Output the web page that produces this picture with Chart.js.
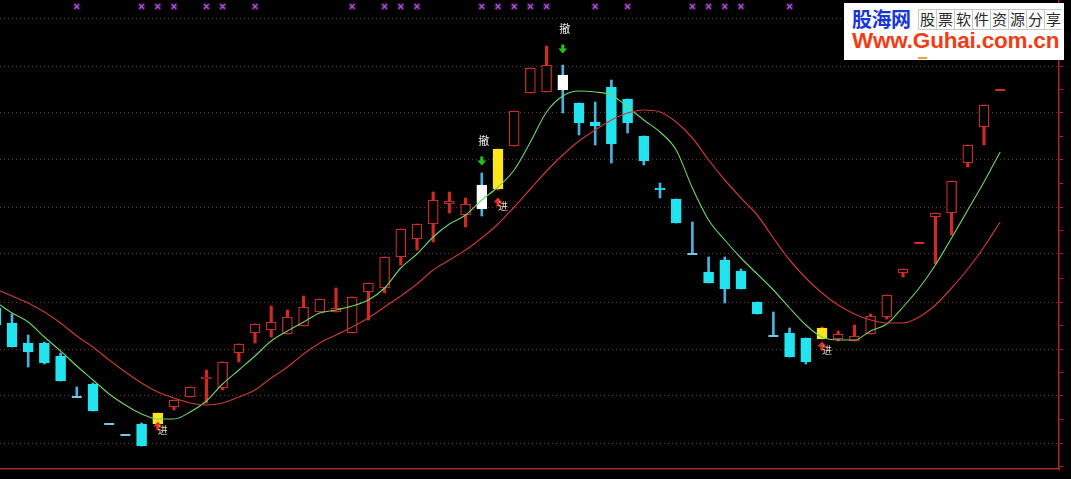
<!DOCTYPE html>
<html>
<head>
<meta charset="utf-8">
<script src="https://cdn.jsdelivr.net/npm/chart.js@4.4.1/dist/chart.umd.min.js"></script>
<style>
html,body{margin:0;padding:0;background:#000;width:1071px;height:479px;overflow:hidden}
#wrap{position:relative;width:1071px;height:479px;background:#000}
#c{position:absolute;left:0;top:0}
#logo{position:absolute;left:844px;top:3px;width:220px;height:57px;background:#fff;overflow:hidden}
#logo .brand{position:absolute;left:8px;top:3px;font:bold 20px "Noto Sans CJK SC";color:#1836d8;line-height:26px;letter-spacing:-0.5px;white-space:nowrap}
#logo .slogan{position:absolute;left:74px;top:6px;display:flex;height:20px}
#logo .slogan i{font-style:normal;display:block;width:17px;height:19px;border:1px solid #c8c8c8;border-right:none;font:15px "Noto Sans CJK SC";color:#2a2a2a;text-align:center;line-height:18px}
#logo .url{position:absolute;left:8px;top:25px;font:bold 22.5px "Liberation Sans";color:#f23c16;line-height:26px;white-space:nowrap;letter-spacing:-0.2px}
#logo .dash{position:absolute;left:74px;top:54px;width:9px;height:2px;background:#f0a030}
</style>
</head>
<body>
<div id="wrap">
<canvas id="c" width="1071" height="479"></canvas>
<div id="logo">
  <span class="brand">股海网</span>
  <span class="slogan"><i>股</i><i>票</i><i>软</i><i>件</i><i>资</i><i>源</i><i>分</i><i>享</i></span>
  <span class="url">Www.Guhai.com.cn</span>
  <span class="dash"></span>
</div>
</div>
<script>
// ---------- data ----------
const dayIdx = [-1,0,1,2,3,4,5,6,7,8,9,10,11,12,13,14,15,16,17,18,19,20,21,22,23,24,25,26,27,28,29,30,31,32,33,34,35,36,37,38,39,40,41,42,43,44,45,46,47,48,49,50,51,52,53,54,55,56,57,58,59,60,61];
const openP  = [9.61,9.46,9.26,9.26,9.13,8.72,8.85,8.45,8.34,8.45,8.45,8.62,8.72,8.90,8.81,9.16,9.36,9.39,9.35,9.43,9.57,9.57,9.36,9.77,9.81,10.12,10.30,10.45,10.65,10.54,10.84,10.80,11.23,11.76,11.77,11.94,11.66,11.47,11.82,11.70,11.33,10.81,10.70,10.15,9.97,10.09,9.98,9.67,9.33,9.36,9.31,9.30,9.30,9.28,9.35,9.52,9.96,10.26,10.52,10.56,11.06,11.42,11.79];
const highP  = [9.63,9.55,9.34,9.27,9.16,8.82,8.86,8.45,8.34,8.46,8.56,8.69,8.82,8.99,9.07,9.25,9.45,9.63,9.59,9.73,9.70,9.81,9.72,9.86,10.12,10.40,10.45,10.77,10.77,10.71,10.96,11.20,11.58,12.01,12.23,12.04,11.66,11.67,11.89,11.70,11.33,10.86,10.70,10.47,10.12,10.12,10.00,9.67,9.57,9.41,9.31,9.42,9.38,9.44,9.55,9.74,10.00,10.26,10.56,10.88,11.24,11.64,11.79];
const lowP   = [9.44,9.22,9.02,9.05,8.88,8.72,8.58,8.45,8.34,8.23,8.45,8.59,8.72,8.66,8.79,9.07,9.26,9.32,9.35,9.43,9.57,9.57,9.36,9.49,9.76,10.04,10.19,10.27,10.56,10.42,10.53,10.79,11.23,11.76,11.77,11.56,11.34,11.24,11.06,11.36,11.04,10.71,10.46,10.15,9.86,9.66,9.80,9.55,9.33,9.12,9.05,9.30,9.28,9.28,9.35,9.50,9.92,10.26,10.05,10.34,11.02,11.24,11.79];
const closeP = [9.44,9.22,9.17,9.06,8.88,8.72,8.58,8.45,8.34,8.23,8.56,8.69,8.82,8.92,9.07,9.25,9.45,9.47,9.52,9.62,9.70,9.61,9.72,9.86,10.12,10.40,10.45,10.69,10.68,10.65,10.60,11.20,11.58,12.01,12.04,11.79,11.46,11.43,11.25,11.46,11.08,10.79,10.46,10.15,9.86,9.80,9.80,9.55,9.33,9.12,9.07,9.41,9.35,9.33,9.53,9.74,10.00,10.26,10.56,10.88,11.24,11.64,11.79];
const maFast = [9.67,9.56,9.47,9.32,9.18,9.03,8.89,8.75,8.64,8.55,8.50,8.50,8.57,8.68,8.85,8.99,9.13,9.28,9.38,9.47,9.56,9.59,9.63,9.69,9.81,10.01,10.15,10.32,10.45,10.54,10.69,10.82,10.99,11.27,11.57,11.73,11.78,11.77,11.74,11.62,11.49,11.37,11.19,10.81,10.49,10.29,10.11,9.95,9.79,9.61,9.44,9.32,9.29,9.29,9.38,9.45,9.62,9.81,10.04,10.31,10.59,10.87,11.17];
const maSlow = [9.80,9.73,9.66,9.57,9.46,9.33,9.22,9.09,8.97,8.86,8.77,8.71,8.66,8.64,8.66,8.72,8.79,8.91,9.02,9.15,9.26,9.34,9.42,9.51,9.62,9.73,9.85,9.99,10.09,10.19,10.31,10.45,10.62,10.80,10.98,11.14,11.28,11.39,11.49,11.56,11.59,11.57,11.47,11.31,11.09,10.89,10.71,10.54,10.31,10.09,9.91,9.76,9.64,9.55,9.49,9.46,9.46,9.52,9.64,9.81,10.00,10.22,10.47];
const yellowIdx = [9,30,50];
const whiteIdx = [29,34];
const markIdx = [4,8,9,10,12,13,15,21,23,24,25,29,30,31,32,33,36,38,42,43,44,45,48];
const markLevel = 12.625;
const sellIdx = [29,34];
const sellLevel = [11.08,12.20];
const sellText = '撤';
const buyIdx = [9,30,50];
const buyLevel = [8.43,10.67,9.23];
const buyText = '进';
const gridMajor = [8.26,8.73,9.20,9.67,10.15,10.62,11.09,11.56,12.03,12.50];
const gridMinor = [8.025,8.495,8.965,9.435,9.91,10.385,10.855,11.325,11.795,12.265];

// ---------- styles ----------
const RED_BOX = '#c3302c', RED_WICK = '#d02a26', CYAN = '#22e4ee', BLUE_WICK = '#4fb0dc';
const YELLOW = '#fbe818', WHITE = '#ffffff', GRID = 'rgba(128,56,56,0.85)', AXIS = '#a82828';

const isUp = dayIdx.map((d, k) => closeP[k] > openP[k] || (closeP[k] === openP[k] && k > 0 && closeP[k] >= closeP[k - 1]));
const kind = dayIdx.map((d, k) => yellowIdx.includes(d) ? 'Y' : whiteIdx.includes(d) ? 'W' : (isUp[k] ? 'U' : 'D'));

const bodyData = [], bodyFill = [], bodyLine = [];
const wickUp = [], wickDown = [];
const dojiData = [], dojiColor = [];
dayIdx.forEach((d, k) => {
  if (highP[k] !== lowP[k]) {
    (isUp[k] ? wickUp : wickDown).push({x: d, y: [lowP[k], highP[k]]});
  }
  if (openP[k] === closeP[k]) {
    dojiData.push({x: d, y: closeP[k]});
    dojiColor.push(isUp[k] ? RED_WICK : '#7cc4e4');
  } else {
    bodyData.push({x: d, y: [openP[k], closeP[k]]});
    const t = kind[k];
    bodyFill.push(t === 'Y' ? YELLOW : t === 'W' ? WHITE : t === 'U' ? '#000000' : CYAN);
    bodyLine.push(t === 'Y' ? YELLOW : t === 'W' ? WHITE : t === 'U' ? RED_BOX : CYAN);
  }
});

const signalPlugin = {
  id: 'signals',
  afterDatasetsDraw(chart) {
    const {ctx, scales: {x, y}} = chart;
    ctx.save();
    ctx.textAlign = 'center';
    ctx.textBaseline = 'middle';
    sellIdx.forEach((d, j) => {
      const px = x.getPixelForValue(d), py = y.getPixelForValue(sellLevel[j]);
      ctx.fillStyle = '#24c41c';
      ctx.fillRect(px - 1.5, py - 4.5, 3, 4.5);
      ctx.beginPath();
      ctx.moveTo(px - 4.5, py - 0.5); ctx.lineTo(px + 4.5, py - 0.5); ctx.lineTo(px, py + 4.5);
      ctx.closePath(); ctx.fill();
      ctx.fillStyle = '#f2f2f2';
      ctx.font = '11px "Noto Sans CJK SC"';
      ctx.fillText(sellText, px + 2, py - 20);
    });
    buyIdx.forEach((d, j) => {
      const px = x.getPixelForValue(d), py = y.getPixelForValue(buyLevel[j]);
      ctx.fillStyle = '#e0342c';
      ctx.beginPath();
      ctx.moveTo(px - 4.5, py + 0.5); ctx.lineTo(px + 4.5, py + 0.5); ctx.lineTo(px, py - 4.5);
      ctx.closePath(); ctx.fill();
      ctx.fillRect(px - 1.5, py, 3, 4.5);
      ctx.fillStyle = '#f0dcb4';
      ctx.font = '10px "Noto Sans CJK SC"';
      ctx.fillText(buyText, px + 5, py + 4);
    });
    ctx.restore();
  }
};

new Chart(document.getElementById('c'), {
  type: 'bar',
  data: {
    datasets: [
      {type: 'line', label: 'marksBg', data: markIdx.map(d => ({x: d, y: markLevel})), showLine: false,
       pointStyle: 'rect', pointRadius: 5, pointBackgroundColor: '#330c3e', pointBorderWidth: 0, order: 1},
      {type: 'line', label: 'marks', data: markIdx.map(d => ({x: d, y: markLevel})), showLine: false,
       pointStyle: 'crossRot', pointRadius: 3.2, pointBorderColor: '#a65cc6', pointBorderWidth: 1.2, order: 0},
      {label: 'wickUp', data: wickUp, backgroundColor: RED_WICK, borderWidth: 0, barThickness: 2.5, grouped: false, order: 6},
      {label: 'wickDown', data: wickDown, backgroundColor: BLUE_WICK, borderWidth: 0, barThickness: 2, grouped: false, order: 6},
      {label: 'body', data: bodyData, backgroundColor: bodyFill, borderColor: bodyLine, borderWidth: 1.3,
       borderSkipped: false, barThickness: 10, grouped: false, order: 5},
      {type: 'line', label: 'doji', data: dojiData, showLine: false, pointStyle: 'line', pointRadius: 5,
       pointBorderWidth: 2, pointBorderColor: dojiColor, order: 5},
      {type: 'line', label: 'maSlow', data: dayIdx.map((d, k) => ({x: d, y: maSlow[k]})), borderColor: '#c23c34',
       borderWidth: 1.2, pointRadius: 0, cubicInterpolationMode: 'monotone', order: 2},
      {type: 'line', label: 'maFast', data: dayIdx.map((d, k) => ({x: d, y: maFast[k]})), borderColor: '#72d26c',
       borderWidth: 1.1, pointRadius: 0, cubicInterpolationMode: 'monotone', order: 2}
    ]
  },
  options: {
    responsive: false,
    animation: false,
    events: [],
    layout: {autoPadding: false, padding: {left: 0, right: 8, top: 0, bottom: 10}},
    plugins: {legend: {display: false}, tooltip: {enabled: false}},
    scales: {
      x: {
        type: 'linear', min: -0.74, max: 64.63, offset: false,
        grid: {display: false, drawTicks: false},
        ticks: {display: false},
        border: {display: true, color: AXIS, width: 1.5}
      },
      y: {
        type: 'linear', position: 'right', min: 8.00, max: 12.69,
        afterBuildTicks: (scale) => {
          scale.ticks = gridMajor.concat(gridMinor).sort((a, b) => a - b).map(v => ({value: v}));
        },
        ticks: {display: false, autoSkip: false},
        grid: {
          drawTicks: true, tickLength: 4, lineWidth: 1,
          color: (c) => (c.tick && gridMajor.includes(c.tick.value)) ? GRID : 'rgba(0,0,0,0)',
          tickColor: AXIS, tickWidth: 1
        },
        border: {display: true, color: AXIS, width: 1.5, dash: [1, 3]}
      }
    }
  },
  plugins: [signalPlugin]
});
</script>
</body>
</html>
